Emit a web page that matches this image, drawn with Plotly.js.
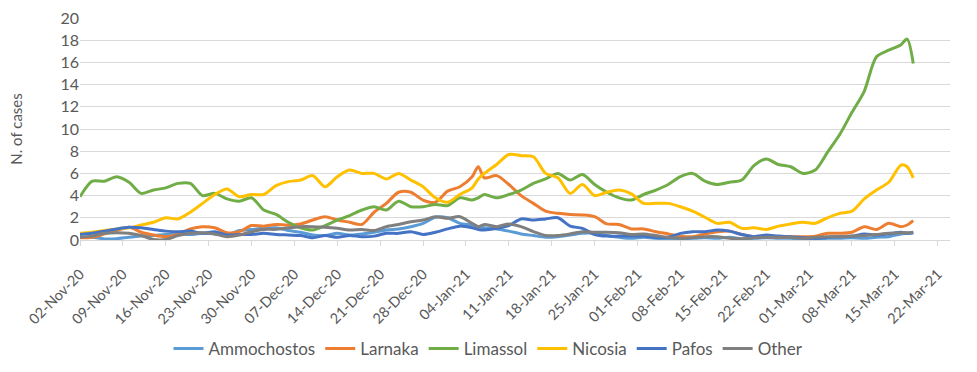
<!DOCTYPE html>
<html>
<head>
<meta charset="utf-8">
<script src="https://cdn.plot.ly/plotly-3.0.1.min.js"></script>
<style>html,body{margin:0;padding:0;background:#fff;}#chart{width:977px;height:372px;}</style>
</head>
<body>
<div id="chart"></div>
<script>
const dates = [
 "2020-11-02","2020-11-04","2020-11-06","2020-11-08","2020-11-10","2020-11-12","2020-11-14","2020-11-16","2020-11-18","2020-11-20",
 "2020-11-22","2020-11-24","2020-11-26","2020-11-28","2020-11-30","2020-12-02","2020-12-04","2020-12-06","2020-12-08","2020-12-10",
 "2020-12-12","2020-12-14","2020-12-16","2020-12-18","2020-12-20","2020-12-22","2020-12-24","2020-12-26","2020-12-28","2020-12-30",
 "2021-01-01","2021-01-03","2021-01-05","2021-01-06","2021-01-07","2021-01-09","2021-01-11","2021-01-13","2021-01-15","2021-01-17",
 "2021-01-19","2021-01-21","2021-01-23","2021-01-25","2021-01-27","2021-01-29","2021-01-31","2021-02-02","2021-02-04","2021-02-06",
 "2021-02-08","2021-02-10","2021-02-12","2021-02-14","2021-02-16","2021-02-18","2021-02-20","2021-02-22","2021-02-24","2021-02-26",
 "2021-02-28","2021-03-02","2021-03-04","2021-03-06","2021-03-08","2021-03-10","2021-03-12","2021-03-14","2021-03-16","2021-03-17",
 "2021-03-18"
];

const ammochostos = [
 0.25,0.25,0.1,0.12,0.25,0.35,0.4,0.5,0.55,0.5,
 0.6,0.55,0.45,0.85,0.95,1.05,1.1,0.85,0.7,0.45,
 0.4,0.6,0.45,0.55,0.7,0.9,1.0,1.2,1.5,2.05,
 2.0,1.5,1.35,1.2,1.1,1.0,0.8,0.55,0.4,0.25,
 0.3,0.45,0.6,0.6,0.4,0.25,0.15,0.25,0.15,0.05,
 0.1,0.15,0.2,0.15,0.25,0.1,0.15,0.2,0.15,0.15,
 0.05,0.05,0.15,0.15,0.2,0.15,0.25,0.3,0.55,0.6,
 0.65
];
const larnaka = [
 0.2,0.25,0.55,0.85,1.15,0.7,0.45,0.3,0.5,1.0,
 1.2,1.1,0.65,0.75,1.3,1.25,1.4,1.35,1.45,1.8,
 2.1,1.8,1.6,1.4,2.5,3.3,4.3,4.3,3.6,3.4,
 4.4,4.8,5.7,6.6,5.6,5.8,5.0,4.0,3.3,2.6,
 2.4,2.3,2.26,2.1,1.45,1.4,1.0,1.0,0.75,0.55,
 0.35,0.3,0.55,0.75,0.8,0.5,0.3,0.3,0.25,0.3,
 0.3,0.35,0.6,0.6,0.7,1.2,0.95,1.5,1.2,1.35,
 1.75
];
const limassol = [
 3.9,5.3,5.3,5.7,5.2,4.2,4.5,4.7,5.1,5.1,
 4.0,4.2,3.7,3.5,3.8,2.7,2.3,1.6,1.1,0.9,
 1.3,1.8,2.2,2.7,3.0,2.7,3.5,3.0,3.0,3.2,
 3.1,3.8,3.6,3.8,4.1,3.8,4.1,4.5,5.1,5.5,
 6.0,5.4,5.9,5.0,4.3,3.8,3.6,4.1,4.5,5.0,
 5.7,6.0,5.3,5.0,5.2,5.4,6.7,7.3,6.8,6.6,
 6.0,6.3,7.9,9.5,11.5,13.4,16.5,17.1,17.6,18.1,
 15.9
];
const nicosia = [
 0.6,0.7,0.85,1.0,1.1,1.35,1.6,2.0,1.9,2.5,
 3.3,4.1,4.6,3.9,4.1,4.1,4.9,5.26,5.4,5.8,
 4.8,5.7,6.3,6.0,6.0,5.5,6.0,5.4,4.8,3.8,
 3.4,4.1,4.7,5.5,6.0,6.8,7.7,7.6,7.5,6.0,
 5.6,4.2,5.0,4.0,4.3,4.5,4.15,3.3,3.3,3.3,
 3.0,2.6,2.05,1.5,1.6,1.05,1.1,0.95,1.25,1.45,
 1.6,1.5,2.0,2.4,2.6,3.7,4.5,5.2,6.75,6.6,
 5.6
];
const pafos = [
 0.5,0.6,0.8,1.0,1.15,1.1,0.95,0.8,0.75,0.8,
 0.6,0.75,0.45,0.5,0.5,0.6,0.5,0.45,0.4,0.2,
 0.4,0.25,0.4,0.3,0.35,0.6,0.6,0.75,0.5,0.7,
 1.0,1.25,1.1,0.95,0.9,1.05,1.3,1.9,1.8,1.9,
 2.0,1.25,1.05,0.5,0.35,0.35,0.35,0.35,0.25,0.25,
 0.6,0.75,0.75,0.9,0.8,0.5,0.3,0.45,0.35,0.3,
 0.2,0.15,0.25,0.3,0.35,0.55,0.45,0.55,0.7,0.6,
 0.65
];
const other = [
 0.25,0.35,0.6,0.65,0.6,0.4,0.05,0.05,0.4,0.6,
 0.65,0.55,0.3,0.45,0.75,0.95,0.96,1.1,1.2,1.2,
 1.15,1.05,0.9,0.95,0.85,1.2,1.4,1.65,1.8,2.1,
 1.95,2.1,1.5,1.2,1.4,1.2,1.45,1.2,0.75,0.4,
 0.4,0.55,0.75,0.7,0.7,0.65,0.5,0.55,0.4,0.25,
 0.15,0.2,0.3,0.3,0.15,0.12,0.2,0.25,0.25,0.25,
 0.15,0.25,0.3,0.3,0.35,0.4,0.5,0.6,0.65,0.65,
 0.7
];

const seriesNames = ["Ammochostos","Larnaka","Limassol","Nicosia","Pafos","Other"];
const seriesValues = [ammochostos, larnaka, limassol, nicosia, pafos, other];
const seriesColors = ["#5B9BD5","#ED7D31","#70AD47","#FFC000","#4472C4","#7F7F7F"];

const traces = seriesNames.map((n, i) => ({
  type: "scatter", mode: "lines", name: n, x: dates, y: seriesValues[i],
  line: {color: seriesColors[i], width: 3, shape: "spline", smoothing: 0.8},
  hoverinfo: "x+y+name"
}));

const font = "Lato, 'Open Sans', 'Liberation Sans', sans-serif";
const layout = {
  width: 977, height: 372,
  margin: {l: 80, r: 27, t: 18, b: 132},
  paper_bgcolor: "#ffffff", plot_bgcolor: "#ffffff",
  font: {family: font, color: "#595959", size: 14},
  showlegend: true,
  legend: {orientation: "h", xref: "container", yref: "container",
           x: 0.5, xanchor: "center", y: 0.062, yanchor: "middle",
           font: {size: 17, color: "#595959"}, itemwidth: 30, traceorder: "normal"},
  xaxis: {
    type: "date", range: ["2020-11-02", "2021-03-24"], automargin: false,
    tick0: "2020-11-02", dtick: 7 * 86400000, tickformat: "%d-%b-%y",
    tickangle: -45, showgrid: false, showline: true, linecolor: "#d9d9d9", linewidth: 1,
    ticks: "outside", ticklen: 5, tickcolor: "#d9d9d9", ticklabelstandoff: 14,
    tickfont: {size: 14.5, color: "#595959"}, zeroline: false, fixedrange: true
  },
  yaxis: {
    range: [0, 20], dtick: 2, showgrid: true, gridcolor: "#d9d9d9", gridwidth: 1,
    zeroline: false, showline: false, ticks: "", ticklen: 0, automargin: false,
    tickfont: {size: 16, color: "#595959"},
    title: {text: "N. of cases", font: {size: 15, color: "#595959"}, standoff: 34},
    fixedrange: true
  }
};
Plotly.newPlot("chart", traces, layout, {displayModeBar: false, staticPlot: true});
</script>
</body>
</html>
